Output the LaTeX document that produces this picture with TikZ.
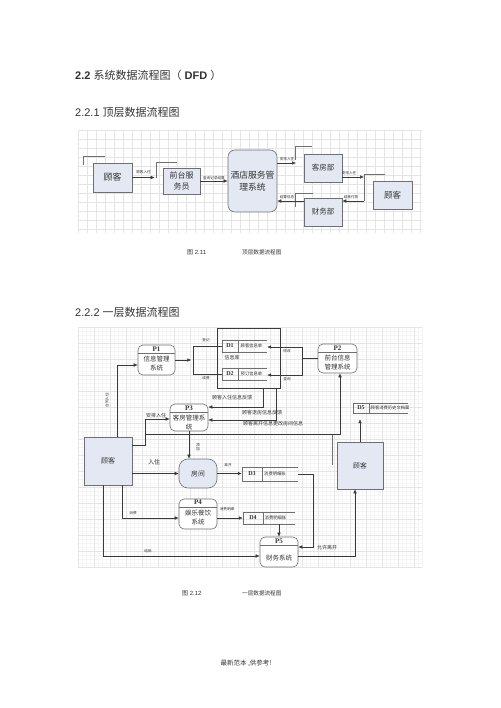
\documentclass[tikz,border=0pt]{standalone}
\usepackage{fontspec}
\setmainfont{Liberation Serif}
\newfontfamily\arial{Liberation Sans}
\newfontfamily\cjk{Noto Sans CJK SC}
\usetikzlibrary{arrows.meta}
\definecolor{boxblue}{HTML}{E3E8F2}
\definecolor{linegray}{HTML}{6F6F6F}
\definecolor{linedark}{HTML}{3A3A3A}
\definecolor{txtgray}{HTML}{333333}

\begin{document}
\begin{tikzpicture}[x=1pt,y=-1pt,
    every node/.style={inner sep=0pt,text=txtgray},
    ent/.style={draw=linegray,fill=boxblue,line width=0.6pt,align=center,font=\cjk\fontsize{7.5}{10}\selectfont},
    sys/.style={ent,rounded corners=7pt},
    room/.style={ent,rounded corners=9pt},
    proc/.style={draw=linegray,fill=white,line width=0.6pt,rounded corners=5pt,
        path picture={\draw[linegray,line width=0.5pt] ([yshift=-8pt]path picture bounding box.north west) -- ([yshift=-8pt]path picture bounding box.north east);}},
    ptag/.style={font=\bfseries\fontsize{7}{7}\selectfont},
    ptxt/.style={font=\cjk\fontsize{6.5}{9.5}\selectfont,align=center},
    dtag/.style={font=\bfseries\fontsize{6}{6}\selectfont},
    dtxt/.style={font=\cjk\fontsize{4.3}{5}\selectfont},
    lbl/.style={font=\cjk\fontsize{3.6}{4}\selectfont},
    lblb/.style={font=\cjk\fontsize{5}{5.5}\selectfont},
    conn/.style={draw=linedark,line width=0.5pt},
    cnr/.style={draw=linegray,line width=0.45pt},
    arr/.style={conn,-{Latex[length=4pt,width=3.6pt]}},
    gridln/.style={draw=gray!8,line width=0.3pt},
    gridmj/.style={draw=gray!20,line width=0.3pt}]
    \useasboundingbox (0,0) rectangle (500,708);
    \fill[white] (0,0) rectangle (500,708);

    % headings
    \node[anchor=west] (h1) at (75,75) {\arial\fontsize{11}{13}\selectfont\textbf{2.2} {\cjk 系统数据流程图（} \textbf{DFD} {\cjk ）}};
    \node[anchor=west] (h2) at (75,112) {\arial\fontsize{11}{13}\selectfont 2.2.1 {\cjk 顶层数据流程图}};

    % top-level DFD
    \foreach \gx in {78,87,...,422} \draw[gridmj] (\gx,130) -- (\gx,233);
    \foreach \gy in {130,139,...,233} \draw[gridmj] (78,\gy) -- (422,\gy);

    \draw[cnr] (83,165) -- (83,156) -- (105,156);
    \draw[cnr] (156,178) -- (156,162) -- (177,162);
    \draw[cnr] (295,160) -- (295,146) -- (312,146);
    \draw[cnr] (295,207) -- (295,193) -- (313,193);
    \draw[cnr] (385,174) -- (364,174) -- (364,201);

    \node[ent,minimum width=39pt,minimum height=29pt,font=\cjk\fontsize{9}{10}\selectfont] (gk) at (112.5,177.5) {顾客};
    \node[ent,minimum width=37pt,minimum height=26pt,font=\cjk\fontsize{8}{10.5}\selectfont] (qt) at (181.5,181) {前台服\\务员};
    \node[sys,minimum width=49pt,minimum height=62pt,font=\cjk\fontsize{8.8}{12}\selectfont] (jd) at (252.5,181) {酒店服务管\\理系统};
    \node[ent,minimum width=38pt,minimum height=28pt] (kf) at (323,168) {客房部};
    \node[ent,minimum width=38pt,minimum height=28pt] (cw) at (323,212) {财务部};
    \node[ent,minimum width=39pt,minimum height=28pt,font=\cjk\fontsize{8.5}{10}\selectfont] (gk2) at (392.5,195) {顾客};

    \coordinate (kfin) at (296,163);
    \coordinate (gk2a) at (364,177);
    \coordinate (gk2b) at (364,201);
    \draw[arr,shorten >=8pt] (gk.east) -- (qt.west |- gk.east);
    \draw[arr] (qt.east) -- (jd.west |- qt.east);
    \draw[arr] (kfin -| jd.east) -- (kfin);
    \draw[arr] (gk2b -| cw.west) -- (gk2b -| jd.east);
    \draw[arr] (kf.east |- gk2a) -- (gk2a);
    \draw[arr] (gk2b) -- (gk2b -| cw.east);

    \node[lbl] (t1) at (143.5,172) {顾客入住};
    \node[lbl] (t2) at (214,178) {查询记录结算};
    \node[lbl] (t3) at (287,159) {安排入住};
    \node[lbl] (t4) at (287,197) {结算信息};
    \node[lbl] (t5) at (349,173) {安排入住};
    \node[lbl] (t6) at (351,197) {结账付款};

    \node[anchor=west] (c1) at (187,252) {\arial\fontsize{6}{7}\selectfont{\cjk 图} 2.11};
    \node[anchor=west] (c2) at (242,252) {\cjk\fontsize{5.6}{7}\selectfont 顶层数据流程图};

    \node[anchor=west] (h3) at (75,312) {\arial\fontsize{11}{13}\selectfont 2.2.2 {\cjk 一层数据流程图}};

    % level-1 DFD
    \foreach \gx in {78,82,...,422} \draw[gridln] (\gx,327) -- (\gx,567);
    \foreach \gy in {327,331,...,567} \draw[gridln] (78,\gy) -- (422,\gy);
    \foreach \gx in {78,94,...,422} \draw[gridmj] (\gx,327) -- (\gx,567);
    \foreach \gy in {327,343,...,567} \draw[gridmj] (78,\gy) -- (422,\gy);

    \node[draw=linedark,line width=0.5pt,minimum width=63pt,minimum height=60pt] (dg) at (248.5,358) {};
    \draw[cnr] (332,434) -- (332,465);

    \node[ent,minimum width=48pt,minimum height=48pt,font=\cjk\fontsize{7}{8}\selectfont] (gk3) at (108,461) {顾客};
    \node[ent,minimum width=46pt,minimum height=47pt,font=\cjk\fontsize{6.8}{8}\selectfont] (gk4) at (360,465.5) {顾客};
    \node[room,minimum width=38pt,minimum height=29pt,font=\cjk\fontsize{6.8}{8}\selectfont] (rm) at (198,473.5) {房间};

    \node[proc,minimum width=37pt,minimum height=30pt] (p1) at (156.5,360) {};
    \node[proc,minimum width=39pt,minimum height=29pt] (p2) at (337.5,358.5) {};
    \node[proc,minimum width=38pt,minimum height=27pt] (p3) at (189,417.5) {};
    \node[proc,minimum width=38pt,minimum height=30pt] (p4) at (198,514) {};
    \node[proc,minimum width=38pt,minimum height=30pt] (p5) at (279,552) {};
    \node[ptag] (p1a) at (156.5,349) {P1};
    \node[ptxt] (p1b) at (156.5,363.5) {信息管理\\系统};
    \node[ptag] (p2a) at (337.5,348) {P2};
    \node[ptxt] (p2b) at (337.5,362.5) {前台信息\\管理系统};
    \node[ptag] (p3a) at (189,408.5) {P3};
    \node[ptxt] (p3b) at (189,422.5) {客房管理系\\统};
    \node[ptag] (p4a) at (198,502.5) {P4};
    \node[ptxt] (p4b) at (198,517.5) {娱乐餐饮\\系统};
    \node[ptag] (p5a) at (279,541) {P5};
    \node[ptxt] (p5b) at (279,558) {财务系统};

    \node[minimum width=45pt,minimum height=12pt] (d1) at (244.5,346) {};
    \node[minimum width=45pt,minimum height=12pt] (d2) at (244.5,374) {};
    \node[minimum width=56pt,minimum height=14pt] (d3) at (270,474) {};
    \node[minimum width=52pt,minimum height=12pt] (d4) at (269,518) {};
    \node[minimum width=55pt,minimum height=10pt] (d5) at (380.5,408) {};
    \foreach \d/\w in {d1/16,d2/16,d3/20,d4/20,d5/16} {
      \draw[conn,draw=linegray] (\d.north east) -- (\d.north west) -- (\d.south west) -- (\d.south east);
      \draw[conn,draw=linegray] ([xshift=\w pt]\d.north west) -- ([xshift=\w pt]\d.south west);
    }
    \node[dtag] (d1a) at (230,346) {D1};
    \node[dtxt,anchor=west] (d1b) at (240.5,346) {顾客信息单};
    \node[dtag] (d2a) at (230,374) {D2};
    \node[dtxt,anchor=west] (d2b) at (240.5,374) {预订信息单};
    \node[dtag] (d3a) at (252,474) {D3};
    \node[dtxt,anchor=west] (d3b) at (264,474) {消费明细账};
    \node[dtag] (d4a) at (253,518) {D4};
    \node[dtxt,anchor=west] (d4b) at (264.5,518) {消费明细账};
    \node[dtag] (d5a) at (361,408) {D5};
    \node[dtxt,anchor=west] (d5b) at (370.5,408) {顾客消费历史文档案};

    \draw[arr] ([xshift=9pt]gk3.north) |- ([yshift=-5pt]p1.west);
    \draw[arr] (p1.east) -- ++(16,0);
    \draw[conn] (d1.west) -| ([xshift=18pt]p1.east) |- (d2.west);
    \draw[conn] (p2.west) -- ++(-15,0);
    \draw[arr] ([xshift=-15pt]p2.west) |- ([yshift=-1pt]d1.east);
    \draw[arr] ([xshift=-15pt]p2.west) |- ([yshift=-1pt]d2.east);
    \draw[arr] ([xshift=14.5pt]dg.south) |- ([yshift=10.5pt]p3.east);
    \draw[arr] ([xshift=27.5pt]dg.south) |- ([yshift=-2.5pt]p3.east);
    \draw[arr] ([yshift=16pt]gk3.east) -- ++(13,0) |- ([yshift=-1.5pt]p3.west);
    \draw[arr] ([xshift=13pt,yshift=16pt]gk3.east) -- ++(0,-11) -| ([xshift=2.5pt]p2.south);
    \draw[arr] (p3.south) -- (p3.south |- rm.north);
    \draw[arr] (gk3.east |- rm.west) -- (rm.west);
    \draw[arr] (rm.east) -- (rm.east -| d3.west);
    \draw[arr] (d3.east) -- ++(15,0) |- ([yshift=5pt]p5.east);
    \draw[arr] ([xshift=14pt]gk3.south) |- ([yshift=-4pt]p4.west);
    \draw[arr] (d4.west -| p4.east) -- (d4.west);
    \draw[arr] (p5.north |- d4.south) -- (p5.north);
    \draw[arr] ([xshift=-5pt]gk3.south) |- ([yshift=-4pt]p5.west);
    \draw[arr] ([yshift=-4pt]p5.east) -| ([xshift=-5pt]gk4.south);
    \draw[arr,shorten >=6pt] (gk4.north) -- (gk4.north |- d5.south);

    \node[lbl,rotate=90] (e1) at (107,400) {合同入住};
    \node[lbl] (e2) at (206,340) {登记};
    \node[lbl] (e3) at (206,378) {续费};
    \node[lblb] (e4) at (232,358) {信息库};
    \node[lbl] (e5) at (287,351) {修改};
    \node[lbl] (e6) at (287,379) {查询};
    \node[lblb] (e7) at (232,398) {顾客入住信息反馈};
    \node[lblb] (e8) at (262,413) {顾客退房信息反馈};
    \node[lblb] (e9) at (273,424) {顾客离开信息更改房间信息};
    \node[lblb] (e10) at (156,415.5) {安排入住};
    \node[lbl,align=center,font=\cjk\fontsize{3.8}{4.6}\selectfont] (e11) at (198,447) {添\\加};
    \node[lbl,font=\cjk\fontsize{6}{6}\selectfont] (e12) at (154,462) {入住};
    \node[lbl] (e13) at (228,465) {离开};
    \node[lbl] (e14) at (133,513) {消费};
    \node[lbl] (e15) at (227,509) {消费明细};
    \node[lbl] (e16) at (148,551) {结账};
    \node[lblb] (e17) at (327,548) {允许离开};

    \node[anchor=west] (c3) at (182,593) {\arial\fontsize{6}{7}\selectfont{\cjk 图} 2.12};
    \node[anchor=west] (c4) at (242,593) {\cjk\fontsize{5.6}{7}\selectfont 一层数据流程图};

    \node (ft) at (246,663) {\cjk\fontsize{6.5}{7}\selectfont 最新范本 ,供参考!};
\end{tikzpicture}
\end{document}
